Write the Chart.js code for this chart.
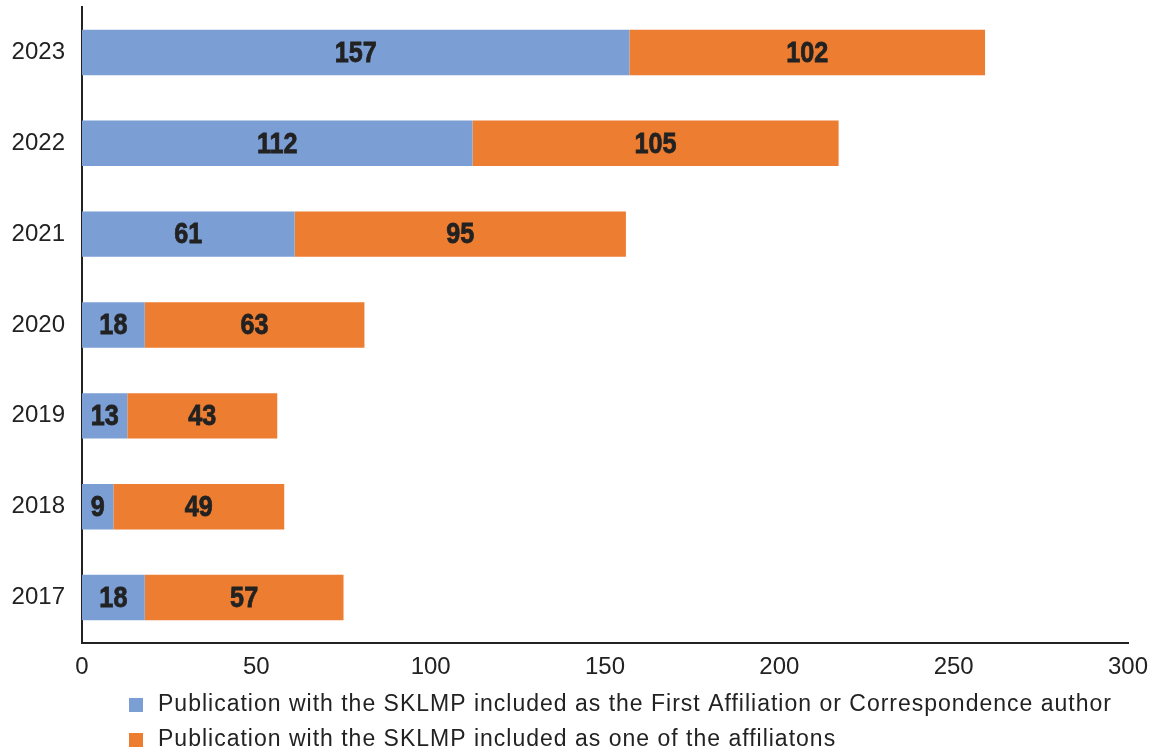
<!DOCTYPE html>
<html>
<head>
<meta charset="utf-8">
<script src="https://cdn.jsdelivr.net/npm/chart.js@4/dist/chart.umd.min.js"></script>
<style>
  html, body { margin: 0; padding: 0; background: #fff; }
  #wrap { width: 1158px; height: 751px; }
</style>
</head>
<body>
<div id="wrap"><canvas id="c" width="1158" height="751"></canvas></div>
<script>
// Publications per year, split by SKLMP affiliation role
const years = ['2023', '2022', '2021', '2020', '2019', '2018', '2017'];
const firstOrCorrespondence = [157, 112, 61, 18, 13, 9, 18];
const oneOfAffiliations = [102, 105, 95, 63, 43, 49, 57];
const xTicks = [0, 50, 100, 150, 200, 250, 300];
const seriesNames = [
  'Publication with the SKLMP included as the First Affiliation or Correspondence author',
  'Publication with the SKLMP included as one of the affiliatons'
];

const BLUE = '#7b9fd4';
const ORANGE = '#ec7d31';
const TEXT = '#222222';
const FONT = "'Liberation Sans', Arial, Helvetica, sans-serif";

// Value labels centred inside each bar segment (condensed heavy look)
const segmentLabels = {
  id: 'segmentLabels',
  afterDatasetsDraw(chart) {
    const ctx = chart.ctx;
    chart.data.datasets.forEach((ds, di) => {
      const meta = chart.getDatasetMeta(di);
      meta.data.forEach((bar, i) => {
        const p = bar.getProps(['x', 'y', 'base'], true);
        ctx.save();
        ctx.translate((p.x + p.base) / 2, p.y + 1);
        ctx.scale(0.84, 1);
        ctx.font = 'bold 30px ' + FONT;
        ctx.fillStyle = TEXT;
        ctx.strokeStyle = TEXT;
        ctx.lineWidth = 0.8;
        ctx.textAlign = 'center';
        ctx.textBaseline = 'middle';
        ctx.fillText(String(ds.data[i]), 0, 0);
        ctx.strokeText(String(ds.data[i]), 0, 0);
        ctx.restore();
      });
    });
  }
};

// Legend rows stacked under the x axis, left aligned
const stackedLegend = {
  id: 'stackedLegend',
  afterDraw(chart) {
    const ctx = chart.ctx;
    ctx.save();
    ctx.font = '23px ' + FONT;
    ctx.letterSpacing = '1px';
    ctx.textBaseline = 'middle';
    ctx.textAlign = 'left';
    const rows = [705, 740];
    chart.data.datasets.forEach((ds, i) => {
      const y = rows[i];
      ctx.fillStyle = ds.backgroundColor;
      ctx.fillRect(129, y - 7, 14, 14);
      ctx.fillStyle = TEXT;
      ctx.fillText(ds.label, 158, y);
    });
    ctx.letterSpacing = '0px';
    ctx.restore();
  }
};

new Chart(document.getElementById('c'), {
  type: 'bar',
  data: {
    labels: years,
    datasets: [
      { label: seriesNames[0], data: firstOrCorrespondence, backgroundColor: BLUE },
      { label: seriesNames[1], data: oneOfAffiliations, backgroundColor: ORANGE }
    ]
  },
  options: {
    indexAxis: 'y',
    responsive: false,
    animation: false,
    devicePixelRatio: 1,
    layout: { padding: { top: 7, right: 30, left: 0, bottom: 0 } },
    datasets: { bar: { categoryPercentage: 1, barPercentage: 0.5 } },
    plugins: { legend: { display: false }, tooltip: { enabled: false } },
    scales: {
      x: {
        stacked: true,
        min: 0,
        max: 300,
        afterBuildTicks(axis) { axis.ticks = xTicks.map(v => ({ value: v })); },
        afterFit(axis) { axis.height = 108; axis.paddingLeft = 0; axis.paddingRight = 0; },
        grid: { display: false, drawTicks: false },
        border: { display: true, color: '#222', width: 2 },
        ticks: { color: TEXT, font: { family: FONT, size: 24 }, padding: 10, maxRotation: 0 }
      },
      y: {
        stacked: true,
        afterFit(axis) { axis.width = 82; axis.paddingTop = 0; axis.paddingBottom = 0; },
        grid: { display: false, drawTicks: false },
        border: { display: true, color: '#222', width: 2 },
        ticks: { color: TEXT, font: { family: FONT, size: 24 }, padding: 17 }
      }
    }
  },
  plugins: [segmentLabels, stackedLegend]
});
</script>
</body>
</html>
